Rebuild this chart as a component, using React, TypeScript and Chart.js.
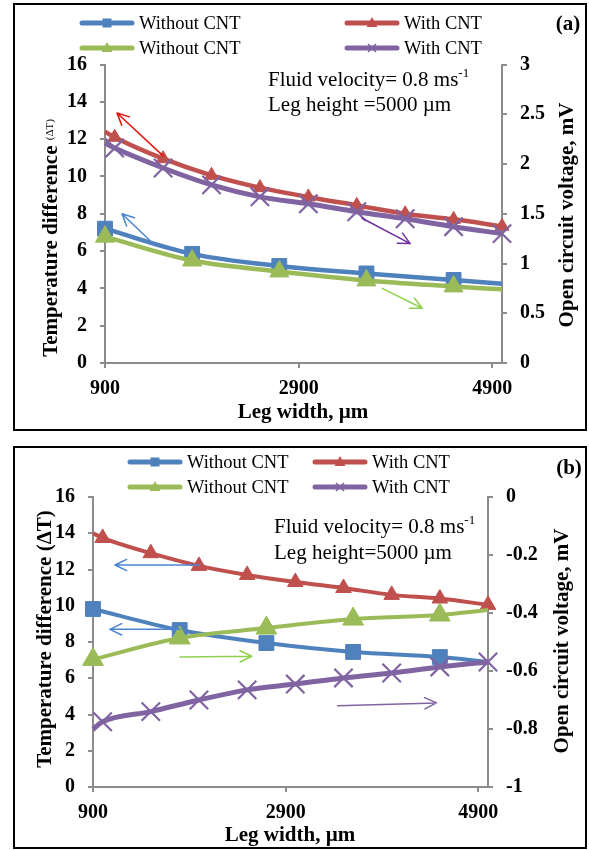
import React, { useEffect, useRef } from "react";
import { Chart, registerables } from "chart.js";
Chart.register(...registerables);

const SERIF = '"Liberation Serif", "Times New Roman", Times, serif';
const AXIS = "#8c8c8c";

const BLUE = "#4F81BD";
const RED = "#C0504D";
const GREEN = "#9BBB59";
const PURPLE = "#8064A2";

// ---- shared x data ----
const xRange = [900, 5000];
const xTickValues = [900, 2900, 4900];
const withoutCntX = [900, 1800, 2700, 3600, 4500, 5000];
const withCntX = [900, 1000, 1500, 2000, 2500, 3000, 3500, 4000, 4500, 5000];
const withoutCntMarkerX = [900, 1800, 2700, 3600, 4500];
const withCntMarkerX = [1000, 1500, 2000, 2500, 3000, 3500, 4000, 4500, 5000];

// ---- panel (a) ----
const aTempWithout = [7.2, 5.85, 5.2, 4.8, 4.45, 4.25];
const aTempWith = [12.4, 12.1, 10.95, 10.06, 9.4, 8.9, 8.45, 8.0, 7.7, 7.33];
const aVoltWithout = [1.27, 1.03, 0.92, 0.83, 0.77, 0.74];
const aVoltWith = [2.21, 2.16, 1.96, 1.79, 1.67, 1.6, 1.52, 1.45, 1.37, 1.3];
const aLeftRange = [0, 16];
const aLeftStep = 2;
const aRightRange = [0, 3];
const aRightStep = 0.5;
const aArrowFrom = [[1500, 11.1], [1417, 6.3], [3556, 1.455], [3763, 0.75]];
const aArrowTo = [[1024, 13.4], [1076, 8.0], [4052, 1.2], [4177, 0.55]];

// ---- panel (b) ----
const bTempWithout = [9.82, 8.66, 7.94, 7.45, 7.17, 6.9];
const bTempWith = [14.0, 13.74, 12.9, 12.2, 11.7, 11.31, 10.98, 10.6, 10.4, 10.05];
const bVoltWithout = [-0.56, -0.486, -0.452, -0.421, -0.407, -0.39];
const bVoltWith = [-0.8, -0.775, -0.74, -0.7, -0.665, -0.645, -0.624, -0.607, -0.586, -0.569];
const bLeftRange = [0, 16];
const bLeftStep = 2;
const bRightRange = [-1, 0];
const bRightStep = 0.2;
const bArrowFrom = [[2009, 12.25], [1802, 8.7], [1802, -0.552], [3439, -0.72]];
const bArrowTo = [[1128, 12.25], [1076, 8.7], [2548, -0.549], [4465, -0.71]];

const legendLabels = ["Without CNT", "With CNT", "Without CNT", "With CNT"];

type Series = {
  label: string;
  xs: number[];
  ys: number[];
  markerXs: number[];
  axis: string;
  color: string;
  style: string;
  radius: number;
  width: number;
  order: number;
};

type Arrow = { axis: string; from: number[]; to: number[]; color: string };

const fmt = (v: any) => String(+Number(v).toFixed(2));

function PanelChart(props: {
  top: number;
  height: number;
  padding: { left: number; right: number; top: number; bottom: number };
  series: Series[];
  leftRange: number[];
  leftStep: number;
  rightRange: number[];
  rightStep: number;
  arrows: Arrow[];
}) {
  const ref = useRef<HTMLCanvasElement>(null);
  useEffect(() => {
    const { series, arrows } = props;
    const arrowPlugin = {
      id: "arrows",
      afterDatasetsDraw(chart: any) {
        const ctx = chart.ctx;
        const xs = chart.scales.x;
        arrows.forEach((a) => {
          const ys = chart.scales[a.axis];
          const x1 = xs.getPixelForValue(a.from[0]);
          const y1 = ys.getPixelForValue(a.from[1]);
          const x2 = xs.getPixelForValue(a.to[0]);
          const y2 = ys.getPixelForValue(a.to[1]);
          const ang = Math.atan2(y2 - y1, x2 - x1);
          const L = 13;
          const sp = 0.45;
          ctx.save();
          ctx.strokeStyle = a.color;
          ctx.lineWidth = 1.5;
          ctx.lineCap = "round";
          ctx.lineJoin = "round";
          ctx.beginPath();
          ctx.moveTo(x1, y1);
          ctx.lineTo(x2, y2);
          ctx.moveTo(x2 - L * Math.cos(ang - sp), y2 - L * Math.sin(ang - sp));
          ctx.lineTo(x2, y2);
          ctx.lineTo(x2 - L * Math.cos(ang + sp), y2 - L * Math.sin(ang + sp));
          ctx.stroke();
          ctx.restore();
        });
      },
    };
    const tickFont = { family: SERIF, size: 20, weight: "bold" as const };
    const chart = new Chart(ref.current as HTMLCanvasElement, {
      type: "line",
      data: {
        datasets: series.map((s) => ({
          label: s.label,
          data: s.xs.map((x, i) => ({ x, y: s.ys[i] })),
          yAxisID: s.axis,
          xAxisID: "x",
          borderColor: s.color,
          backgroundColor: s.color,
          borderWidth: s.width,
          pointStyle: s.style as any,
          pointRadius: (c: any) => (s.markerXs.includes(s.xs[c.dataIndex]) ? s.radius : 0),
          pointBorderWidth: s.style === "crossRot" ? 2.2 : 1,
          pointBorderColor: s.color,
          pointBackgroundColor: s.color,
          cubicInterpolationMode: "monotone" as const,
          clip: false as any,
          order: s.order,
          fill: false,
        })),
      },
      options: {
        animation: false,
        responsive: false,
        maintainAspectRatio: false,
        events: [],
        layout: { padding: props.padding },
        plugins: { legend: { display: false }, tooltip: { enabled: false } },
        scales: {
          x: {
            type: "linear",
            position: "bottom",
            min: xRange[0],
            max: xRange[1],
            afterBuildTicks: (sc: any) => {
              sc.ticks = xTickValues.map((v) => ({ value: v }));
            },
            afterFit: (sc: any) => {
              sc.height = 40;
            },
            grid: { drawOnChartArea: false, tickLength: 5, color: AXIS, lineWidth: 2 },
            border: { color: AXIS, width: 2 },
            ticks: {
              font: tickFont,
              color: "#000",
              padding: 9,
              maxRotation: 0,
              autoSkip: false,
              callback: (v: any) => String(v),
            },
          },
          y: {
            type: "linear",
            position: "left",
            min: props.leftRange[0],
            max: props.leftRange[1],
            afterFit: (sc: any) => {
              sc.width = 50;
            },
            grid: { drawOnChartArea: false, tickLength: 5, color: AXIS, lineWidth: 2 },
            border: { color: AXIS, width: 2 },
            ticks: { stepSize: props.leftStep, font: tickFont, color: "#000", padding: 13, callback: fmt },
          },
          y1: {
            type: "linear",
            position: "right",
            min: props.rightRange[0],
            max: props.rightRange[1],
            afterFit: (sc: any) => {
              sc.width = 55;
            },
            grid: { drawOnChartArea: false, tickLength: 5, color: AXIS, lineWidth: 2 },
            border: { color: AXIS, width: 2 },
            ticks: { stepSize: props.rightStep, font: tickFont, color: "#000", padding: 13, callback: fmt },
          },
        },
      },
      plugins: [arrowPlugin],
    });
    return () => chart.destroy();
  }, []);
  return (
    <canvas
      ref={ref}
      width={589}
      height={props.height}
      style={{ position: "absolute", left: 0, top: props.top, width: 589, height: props.height }}
    />
  );
}

function LegendSample({ color, style }: { color: string; style: string }) {
  let marker: any = null;
  if (style === "rect") marker = <rect x={23.5} y={3.5} width={9} height={9} fill={color} />;
  else if (style === "triangle") marker = <polygon points="28,2 33.5,12 22.5,12" fill={color} />;
  else
    marker = (
      <g stroke={color} strokeWidth={1.6}>
        <line x1={24} y1={4} x2={32} y2={12} />
        <line x1={32} y1={4} x2={24} y2={12} />
      </g>
    );
  return (
    <svg width={56} height={16} style={{ display: "block" }}>
      <line x1={3} y1={8} x2={53} y2={8} stroke={color} strokeWidth={5} strokeLinecap="round" />
      {marker}
    </svg>
  );
}

function Legend({ cols, rows }: { cols: number[]; rows: number[] }) {
  const colors = [BLUE, RED, GREEN, PURPLE];
  const styles = ["rect", "triangle", "triangle", "crossRot"];
  return (
    <>
      {legendLabels.map((lab, i) => {
        const x = cols[i % 2];
        const y = rows[Math.floor(i / 2)];
        return (
          <div
            key={i}
            style={{
              position: "absolute",
              left: x,
              top: y - 9,
              height: 18,
              display: "flex",
              alignItems: "center",
              whiteSpace: "nowrap",
            }}
          >
            <LegendSample color={colors[i]} style={styles[i]} />
            <span style={{ fontFamily: SERIF, fontSize: 18.5, lineHeight: "18px", marginLeft: 4 }}>{lab}</span>
          </div>
        );
      })}
    </>
  );
}

function Txt({ x, y, size, bold, children, center }: any) {
  return (
    <div
      style={{
        position: "absolute",
        left: x,
        top: y,
        transform: center ? "translate(-50%, -50%)" : "translateY(-50%)",
        fontFamily: SERIF,
        fontSize: size,
        lineHeight: 1,
        fontWeight: bold ? "bold" : "normal",
        whiteSpace: "nowrap",
        color: "#000",
      }}
    >
      {children}
    </div>
  );
}

function VTxt({ x, y, children }: any) {
  return (
    <div
      style={{
        position: "absolute",
        left: x,
        top: y,
        transform: "translate(-50%, -50%) rotate(-90deg)",
        fontFamily: SERIF,
        fontSize: 21,
        lineHeight: 1,
        fontWeight: "bold",
        whiteSpace: "nowrap",
        color: "#000",
      }}
    >
      {children}
    </div>
  );
}

const Sup = () => (
  <span style={{ fontSize: 13, position: "relative", top: "-0.7em" }}>-1</span>
);

function mkSeries(
  tw: number[],
  tc: number[],
  vw: number[],
  vc: number[],
  big: boolean
): Series[] {
  const w = big ? 4.5 : 4;
  return [
    { label: legendLabels[0], xs: withoutCntX, ys: tw, markerXs: withoutCntMarkerX, axis: "y", color: BLUE, style: "rect", radius: 10.5, width: w, order: 3 },
    { label: legendLabels[1], xs: withCntX, ys: tc, markerXs: withCntMarkerX, axis: "y", color: RED, style: "triangle", radius: big ? 8 : 9, width: w, order: 2 },
    { label: legendLabels[2], xs: withoutCntX, ys: vw, markerXs: withoutCntMarkerX, axis: "y1", color: GREEN, style: "triangle", radius: big ? 11 : 12, width: w, order: 1 },
    { label: legendLabels[3], xs: withCntX, ys: vc, markerXs: withCntMarkerX, axis: "y1", color: PURPLE, style: "crossRot", radius: 13, width: 5, order: 0 },
  ];
}

function mkArrows(from: number[][], to: number[][], colors: string[], axes: string[]): Arrow[] {
  return from.map((f, i) => ({ from: f, to: to[i], color: colors[i], axis: axes[i] }));
}

export default function App() {
  const seriesA = mkSeries(aTempWithout, aTempWith, aVoltWithout, aVoltWith, true);
  const seriesB = mkSeries(bTempWithout, bTempWith, bVoltWithout, bVoltWith, false);
  const arrowsA = mkArrows(aArrowFrom, aArrowTo, ["#E3120B", "#4A86CF", "#7030A0", "#92D050"], ["y", "y", "y1", "y1"]);
  const arrowsB = mkArrows(bArrowFrom, bArrowTo, ["#4A86CF", "#4A86CF", "#92D050", "#8064A2"], ["y", "y", "y1", "y1"]);
  return (
    <div style={{ position: "absolute", left: 0, top: 0, width: 589, height: 850, background: "#fff", overflow: "hidden" }}>
      <div style={{ position: "absolute", left: 13, top: 3, width: 574, height: 428, border: "2px solid #000", boxSizing: "border-box" }} />
      <div style={{ position: "absolute", left: 13, top: 446, width: 574, height: 403, border: "2px solid #000", boxSizing: "border-box" }} />

      <PanelChart
        top={0}
        height={440}
        padding={{ left: 55, right: 32, top: 64.5, bottom: 37 }}
        series={seriesA}
        leftRange={aLeftRange}
        leftStep={aLeftStep}
        rightRange={aRightRange}
        rightStep={aRightStep}
        arrows={arrowsA}
      />
      <PanelChart
        top={440}
        height={410}
        padding={{ left: 43, right: 46, top: 57, bottom: 23 }}
        series={seriesB}
        leftRange={bLeftRange}
        leftStep={bLeftStep}
        rightRange={bRightRange}
        rightStep={bRightStep}
        arrows={arrowsB}
      />

      {/* panel (a) texts */}
      <Legend cols={[79, 344]} rows={[23, 48]} />
      <Txt x={568} y={23} size={21} bold center>(a)</Txt>
      <Txt x={268} y={79} size={21}>Fluid velocity= 0.8 ms<Sup /></Txt>
      <Txt x={268} y={104} size={21}>Leg height =5000 µm</Txt>
      <VTxt x={50} y={238}>
        Temperature difference{" "}
        <span style={{ fontSize: 11, fontWeight: "normal", position: "relative", top: -4 }}>(ΔT)</span>
      </VTxt>
      <VTxt x={566} y={215}>Open circuit voltage, mV</VTxt>
      <Txt x={303} y={411} size={21} bold center>Leg width, µm</Txt>

      {/* panel (b) texts */}
      <Legend cols={[127, 312]} rows={[462, 487]} />
      <Txt x={569} y={467} size={21} bold center>(b)</Txt>
      <Txt x={274} y={526} size={21}>Fluid velocity= 0.8 ms<Sup /></Txt>
      <Txt x={274} y={552} size={21}>Leg height=5000 µm</Txt>
      <VTxt x={44} y={639}>Temperature difference (ΔT)</VTxt>
      <VTxt x={561} y={641}>Open circuit voltage, mV</VTxt>
      <Txt x={290} y={834} size={21} bold center>Leg width, µm</Txt>
    </div>
  );
}
